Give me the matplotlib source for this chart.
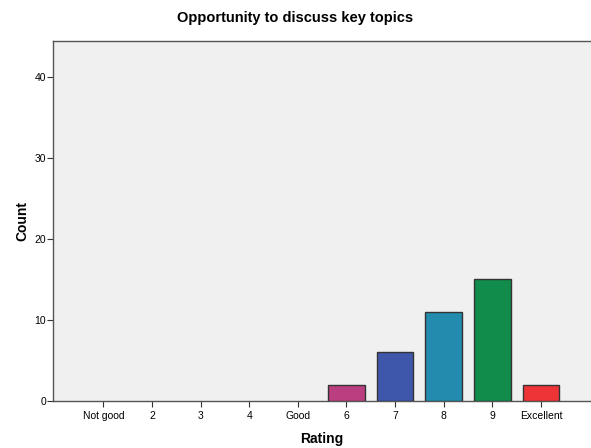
import matplotlib.pyplot as plt

plt.rcParams['font.family'] = ['Liberation Sans', 'DejaVu Sans']

# ====== 数据 ======
categories = ['Not good', '2', '3', '4', 'Good', '6', '7', '8', '9', 'Excellent']
counts = [0, 0, 0, 0, 0, 2, 6, 11, 15, 2]
bar_colors = ['#b83c7c', '#b83c7c', '#b83c7c', '#b83c7c', '#b83c7c',
              '#bb3f80', '#3e57aa', '#238bae', '#118c4b', '#ef3438']

# ====== 图表 ======
fig = plt.figure(figsize=(5.91, 4.48), dpi=100)
ax = fig.add_axes([0.0897, 0.1049, 0.9103, 0.8036])
ax.set_facecolor('#f0f0f0')

x = list(range(len(categories)))
# 计数为 0 的柱子不画边框
widths = [1.0 if c > 0 else 0 for c in counts]
ax.bar(x, counts, width=0.755, color=bar_colors, edgecolor='#333333', linewidth=widths, zorder=3)

ax.set_xlim(-1.035, 10.03)
ax.set_ylim(0, 44.4)
ax.set_xticks(x)
ax.set_xticklabels(categories, fontsize=7.5)
ax.set_yticks([0, 10, 20, 30, 40])
ax.tick_params(axis='y', labelsize=7.5, length=4, width=0.8, color='#333333', pad=1)
ax.tick_params(axis='x', length=4, width=0.8, color='#333333', pad=3)

for side in ['left', 'bottom', 'top']:
    ax.spines[side].set_color('#555555')
    ax.spines[side].set_linewidth(1.0)
ax.spines['right'].set_visible(False)

ax.set_xlabel('Rating', fontsize=10, fontweight='bold', labelpad=8)
ax.set_ylabel('Count', fontsize=10, fontweight='bold', labelpad=4)
fig.suptitle('Opportunity to discuss key topics', fontsize=10.5, fontweight='bold', y=0.975)

plt.savefig('out.png', dpi=100)
